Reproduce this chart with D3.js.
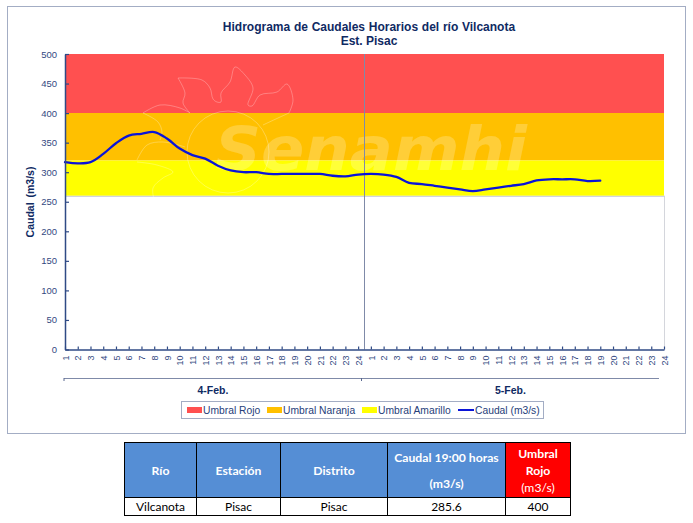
<!DOCTYPE html>
<html>
<head>
<meta charset="utf-8">
<script src="https://cdn.jsdelivr.net/npm/d3@7"></script>
<style>
html, body { margin: 0; padding: 0; background: #fff; }
svg { display: block; }
text { font-family: "Liberation Sans", Arial, sans-serif; }
</style>
</head>
<body>
<div id="chart"></div>
<script>
// hours of the two days, one tick per hour
var day_labels = ["4-Feb.", "5-Feb."];
var hour_labels = d3.range(1, 25);
var y_ticks = [0, 50, 100, 150, 200, 250, 300, 350, 400, 450, 500];

// hourly flow (last reading is 19:00 on 5-Feb)
var caudal_day1 = [317, 315, 317, 331, 349, 362, 365, 368, 357, 340, 329, 323,
                   311, 303, 300, 300, 297, 297, 297, 297, 297, 294, 293, 296];
var caudal_day2 = [297, 296, 292, 282, 280, 277, 274, 271, 268, 271, 274, 277,
                   280, 286, 288, 288, 288, 285, 285.6];

// threshold bands
var band_names = ["Umbral Rojo", "Umbral Naranja", "Umbral Amarillo"];
var band_low = [400, 320, 260];
var band_high = [500, 400, 320];
var band_colors = ["#ff5050", "#ffc000", "#ffff00"];

// table under the chart
var table_headers = [["Río"], ["Estación"], ["Distrito"], ["Caudal 19:00 horas", "(m3/s)"], ["Umbral", "Rojo", "(m3/s)"]];
var table_row = ["Vilcanota", "Pisac", "Pisac", "285.6", "400"];

var ink = "#0f2a63";
var axis_color = "#2f4a85";
var tick_text = "#33497f";

var total_width = 693;
var total_height = 523;
var plot = { left: 65, right: 664, top: 54, bottom: 349.5 };

var svg_root = d3.select("#chart").append("svg")
    .attr("width", total_width)
    .attr("height", total_height);

// Outer frame of the chart
svg_root.append("rect")
    .attr("x", 7.5).attr("y", 6.5)
    .attr("width", 678).attr("height", 427)
    .attr("fill", "#fff")
    .attr("stroke", "#a3adc4")
    .attr("stroke-width", 1);

var hour_keys = d3.range(48);
var x = d3.scalePoint().domain(hour_keys).range([plot.left, plot.right]);
var y = d3.scaleLinear().domain([0, 500]).range([plot.bottom, plot.top]);

// Bands
band_names.forEach(function(name, i) {
    var band_area = d3.area()
        .x(function(d) { return x(d); })
        .y0(y(band_low[i]))
        .y1(y(band_high[i]));
    svg_root.append("path")
        .attr("d", band_area(hour_keys))
        .attr("fill", band_colors[i]);
});

// Grey edge under the yellow band and down the right side
svg_root.append("line")
    .attr("x1", plot.left).attr("x2", plot.right + 1)
    .attr("y1", y(260) + 0.5).attr("y2", y(260) + 0.5)
    .attr("stroke", "#c9ccd6").attr("stroke-width", 1);
svg_root.append("line")
    .attr("x1", plot.right + 0.5).attr("x2", plot.right + 0.5)
    .attr("y1", y(260)).attr("y2", plot.bottom)
    .attr("stroke", "#d4d6dc").attr("stroke-width", 1);

// Watermark logo, very faint outlines
var logo_strokes = [
    [[178,78],[202,80],[210,88],[213,99],[217,102],[221,102],[221,93],[230,82],[235,67],[245,75],[253,88],[248,105],[252,106],[260,95],[277,92],[287,84],[293,100],[289,113]],
    [[178,78],[185,93],[183,103],[190,113]],
    [[143,113],[160,105],[180,108],[190,113]],
    [[143,113],[158,122],[162,132],[160,140]],
    [[137,160],[147,145],[163,142],[185,147]],
    [[137,162],[157,165],[173,172],[163,178],[153,188],[155,203]],
    [[263,125],[278,118],[289,113]]
];
var logo_line = d3.line().curve(d3.curveCatmullRom);
var logo = svg_root.append("g")
    .attr("fill", "none")
    .attr("stroke", "#fff")
    .attr("stroke-opacity", 0.35)
    .attr("stroke-width", 0.8);
logo.append("circle").attr("cx", 228).attr("cy", 152).attr("r", 41);
logo_strokes.forEach(function(stroke) {
    logo.append("path").attr("d", logo_line(stroke));
});

// Watermark word
svg_root.append("text")
    .attr("x", 215).attr("y", 170)
    .attr("font-size", 60)
    .attr("font-weight", "bold")
    .attr("font-style", "italic")
    .attr("fill", "#fff")
    .attr("fill-opacity", 0.22)
    .style("font-family", '"DejaVu Sans", sans-serif')
    .attr("textLength", 312)
    .attr("lengthAdjust", "spacingAndGlyphs")
    .text("Senamhi");

// Divider between the two days
svg_root.append("line")
    .attr("x1", 364.5).attr("x2", 364.5)
    .attr("y1", plot.top).attr("y2", plot.bottom)
    .attr("stroke", "#7f8aa8")
    .attr("stroke-width", 1);

// Flow line
var caudal = caudal_day1.concat(caudal_day2);
var caudal_line = d3.line()
    .x(function(d, i) { return x(i); })
    .y(function(d) { return y(d); })
    .curve(d3.curveCatmullRom);

svg_root.append("path")
    .attr("d", caudal_line(caudal))
    .attr("fill", "none")
    .attr("stroke", "#0a14d8")
    .attr("stroke-width", 2.3)
    .attr("stroke-linecap", "round");

// Y axis
var y_axis = d3.axisLeft(y).tickValues(y_ticks).tickSize(-4).tickSizeOuter(0).tickPadding(8);
var y_group = svg_root.append("g")
    .attr("transform", "translate(" + plot.left + ",0)")
    .call(y_axis);
y_group.select(".domain").attr("stroke", axis_color).attr("stroke-width", 1.5);
y_group.selectAll(".tick line").attr("stroke", axis_color).attr("stroke-width", 1.2);
y_group.selectAll("text")
    .attr("font-size", 9.5)
    .attr("fill", tick_text)
    .style("font-family", '"Liberation Sans", Arial, sans-serif');

// X axis
var x_axis = d3.axisBottom(x)
    .tickSize(-3)
    .tickSizeOuter(0)
    .tickFormat(function(d) { return hour_labels[d % 24]; });
var x_group = svg_root.append("g")
    .attr("transform", "translate(0," + plot.bottom + ")")
    .call(x_axis);
x_group.select(".domain").attr("stroke", axis_color).attr("stroke-width", 1.5);
x_group.selectAll(".tick line").attr("stroke", axis_color).attr("stroke-width", 1.2);
x_group.selectAll("text")
    .attr("transform", "rotate(-90)")
    .attr("x", -6)
    .attr("y", 0)
    .attr("dy", "0.35em")
    .attr("text-anchor", "end")
    .attr("font-size", 9)
    .attr("fill", tick_text)
    .style("font-family", '"Liberation Sans", Arial, sans-serif');

// Day bracket below the hour labels
var bracket_y = 378;
svg_root.append("line")
    .attr("x1", x(0) - 1).attr("x2", 659)
    .attr("y1", bracket_y + 0.5).attr("y2", bracket_y + 0.5)
    .attr("stroke", "#7f8aa8").attr("stroke-width", 1);
[x(0) - 1, 361.5].forEach(function(tick_x) {
    svg_root.append("line")
        .attr("x1", tick_x).attr("x2", tick_x)
        .attr("y1", bracket_y).attr("y2", bracket_y + 3)
        .attr("stroke", "#5a6890").attr("stroke-width", 1);
});
svg_root.selectAll(".day-label")
    .data(day_labels)
    .enter().append("text")
    .attr("class", "day-label")
    .attr("x", function(d, i) { return i == 0 ? 213 : 510.5; })
    .attr("y", 394)
    .attr("text-anchor", "middle")
    .attr("font-size", 10.5)
    .attr("font-weight", "bold")
    .attr("fill", ink)
    .text(function(d) { return d; });

// Titles
svg_root.append("text")
    .attr("x", 369).attr("y", 31)
    .attr("text-anchor", "middle")
    .attr("font-size", 12)
    .attr("font-weight", "bold")
    .attr("word-spacing", 0.4)
    .attr("fill", ink)
    .text("Hidrograma de Caudales Horarios del río Vilcanota");
svg_root.append("text")
    .attr("x", 369).attr("y", 45)
    .attr("text-anchor", "middle")
    .attr("font-size", 12)
    .attr("font-weight", "bold")
    .attr("fill", ink)
    .text("Est. Pisac");
svg_root.append("text")
    .attr("transform", "translate(34,202) rotate(-90)")
    .attr("text-anchor", "middle")
    .attr("font-size", 10.5)
    .attr("font-weight", "bold")
    .attr("word-spacing", 2)
    .attr("fill", ink)
    .text("Caudal (m3/s)");

// Legend
var legend_group = svg_root.append("g");
legend_group.append("rect")
    .attr("x", 181.5).attr("y", 401.5)
    .attr("width", 362).attr("height", 17)
    .attr("fill", "#fff")
    .attr("stroke", "#a3adc4");
var legend_text_x = [203, 283, 378, 475];
var legend_key_x = [187, 267, 362, 458];
var legend_names = band_names.concat(["Caudal (m3/s)"]);
legend_names.forEach(function(name, i) {
    if (i < 3) {
        legend_group.append("rect")
            .attr("x", legend_key_x[i]).attr("y", 407)
            .attr("width", 15).attr("height", 6)
            .attr("fill", band_colors[i]);
    } else {
        legend_group.append("line")
            .attr("x1", legend_key_x[i]).attr("x2", legend_key_x[i] + 16)
            .attr("y1", 410).attr("y2", 410)
            .attr("stroke", "#0a14d8").attr("stroke-width", 2);
    }
    legend_group.append("text")
        .attr("x", legend_text_x[i]).attr("y", 413.5)
        .attr("font-size", 10.3)
        .attr("fill", "#26407a")
        .text(name);
});

// Table
var col_edges = [124.5, 196.5, 280.5, 387.5, 505.5, 570.5];
var row_edges = [442.5, 497.5, 515.5];
var table_group = svg_root.append("g").selectAll("g")
    .data(table_headers)
    .enter().append("g");

table_group.append("rect")
    .attr("x", function(d, i) { return col_edges[i]; })
    .attr("y", row_edges[0])
    .attr("width", function(d, i) { return col_edges[i + 1] - col_edges[i]; })
    .attr("height", row_edges[1] - row_edges[0])
    .attr("fill", function(d, i) { return i == 4 ? "#ff0000" : "#558ed5"; })
    .attr("stroke", "#000");

table_group.append("rect")
    .attr("x", function(d, i) { return col_edges[i]; })
    .attr("y", row_edges[1])
    .attr("width", function(d, i) { return col_edges[i + 1] - col_edges[i]; })
    .attr("height", row_edges[2] - row_edges[1])
    .attr("fill", "#fff")
    .attr("stroke", "#000");

table_group.each(function(lines, i) {
    var cell_x = (col_edges[i] + col_edges[i + 1]) / 2;
    var line_step = lines.length == 3 ? 17 : 26;
    d3.select(this).selectAll(".head")
        .data(lines)
        .enter().append("text")
        .attr("class", "head")
        .attr("x", cell_x)
        .attr("y", function(d, j) { return 474.5 + (j - (lines.length - 1) / 2) * line_step; })
        .attr("text-anchor", "middle")
        .attr("font-size", 12.2)
        .attr("font-weight", function(d) { return d == "(m3/s)" && i == 4 ? "normal" : "bold"; })
        .attr("fill", "#fff")
        .style("font-family", "Lato, sans-serif")
        .text(function(d) { return d; });
    d3.select(this).append("text")
        .attr("x", cell_x)
        .attr("y", row_edges[1] + 13)
        .attr("text-anchor", "middle")
        .attr("font-size", 12)
        .attr("fill", "#000")
        .style("font-family", "Lato, sans-serif")
        .text(table_row[i]);
});
</script>
</body>
</html>
